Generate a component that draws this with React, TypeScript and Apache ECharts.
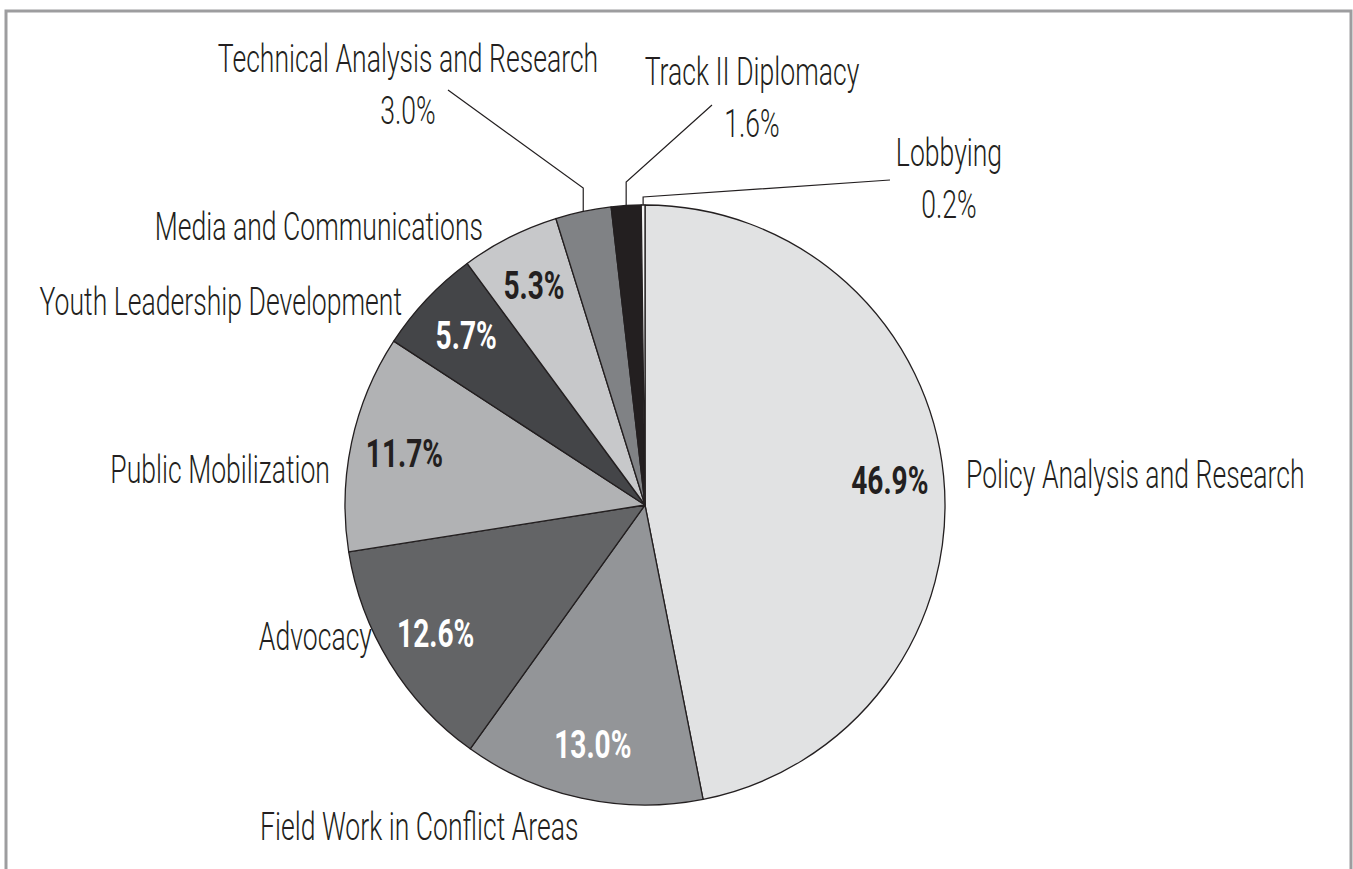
import React, { useEffect, useRef } from "react";
import * as echarts from "echarts";

// ---- data ----
const categories = [
  "Policy Analysis and Research",
  "Field Work in Conflict Areas",
  "Advocacy",
  "Public Mobilization",
  "Youth Leadership Development",
  "Media and Communications",
  "Technical Analysis and Research",
  "Track II Diplomacy",
  "Lobbying",
];
const shares = [46.9, 13.0, 12.6, 11.7, 5.7, 5.3, 3.0, 1.6, 0.2];

// ---- styles ----
const sliceColors = ["#e1e2e3", "#939598", "#636466", "#b1b2b4", "#444548", "#c7c8ca", "#808285", "#231f20", "#f4f4f4"];
const insideLabelColors = ["#231f20", "#ffffff", "#ffffff", "#231f20", "#ffffff", "#231f20", "", "", ""];
const INK = "#231f20";
const FONT = "Roboto, 'Liberation Sans', sans-serif";
const OUT_SIZE = 38;
const OUT_SCALE = 0.7;
const IN_SIZE = 38;
const IN_SCALE = 0.74;
const IN_RADIUS = 246;

// outer label anchors (annotation layout)
const outerLabelLayout: any[] = [
  { x: 966, y: 475, align: "left" },
  { x: 260, y: 827, align: "left" },
  { x: 372, y: 637, align: "right" },
  { x: 330, y: 470, align: "right" },
  { x: 402, y: 302, align: "right" },
  { x: 483, y: 227, align: "right" },
  { x: 408, y: 85, align: "center", elbowY: 188, end: [448, 90] },
  { x: 752, y: 98, align: "center", elbowY: 182, end: [712, 105] },
  { x: 949, y: 179, align: "center", elbowY: 197, end: [890, 180] },
];

const CENTER = [645, 505];
const RADIUS = 300;

export default function App() {
  const ref = useRef<HTMLDivElement>(null);
  useEffect(() => {
    if (!ref.current) return;
    const chart = echarts.init(ref.current, undefined, { renderer: "svg" });
    const total = shares.reduce((a, b) => a + b, 0);
    const midAngle = (i: number) => {
      let cum = 0;
      for (let k = 0; k < i; k++) cum += shares[k];
      return ((cum + shares[i] / 2) / total) * Math.PI * 2;
    };
    const polar = (i: number, r: number) => {
      const a = midAngle(i);
      return [CENTER[0] + r * Math.sin(a), CENTER[1] - r * Math.cos(a)];
    };
    const fmt = (v: number) => `${v.toFixed(1)}%`;

    const graphics: any[] = [
      {
        type: "rect",
        shape: { x: 6, y: 11, width: 1345, height: 1000 },
        style: { fill: "none", stroke: "#9d9d9f", lineWidth: 3 },
        silent: true,
        z: 0,
      },
    ];

    categories.forEach((name, i) => {
      const L = outerLabelLayout[i];
      const text = L.end ? `${name}\n${fmt(shares[i])}` : name;
      graphics.push({
        type: "text",
        x: L.x,
        y: L.y,
        scaleX: OUT_SCALE,
        silent: true,
        z: 10,
        style: {
          text,
          x: 0,
          y: 0,
          align: L.align,
          verticalAlign: "middle",
          fontFamily: FONT,
          fontSize: OUT_SIZE,
          fontWeight: 300,
          lineHeight: 52,
          fill: INK,
        },
      });
      if (L.end) {
        const p0 = polar(i, RADIUS);
        graphics.push({
          type: "polyline",
          silent: true,
          z: 10,
          shape: { points: [p0, [p0[0], L.elbowY], L.end] },
          style: { stroke: INK, lineWidth: 1.2, fill: "none" },
        });
      }
      if (insideLabelColors[i]) {
        const p = polar(i, IN_RADIUS);
        graphics.push({
          type: "text",
          x: p[0],
          y: p[1],
          scaleX: IN_SCALE,
          silent: true,
          z: 10,
          style: {
            text: fmt(shares[i]),
            x: 0,
            y: 0,
            align: "center",
            verticalAlign: "middle",
            fontFamily: FONT,
            fontSize: IN_SIZE,
            fontWeight: "bold",
            fill: insideLabelColors[i],
          },
        });
      }
    });

    chart.setOption({
      animation: false,
      backgroundColor: "#ffffff",
      graphic: graphics,
      series: [
        {
          type: "pie",
          center: CENTER,
          radius: RADIUS,
          startAngle: 90,
          clockwise: true,
          avoidLabelOverlap: false,
          silent: true,
          itemStyle: { borderColor: INK, borderWidth: 1.3 },
          label: { show: false },
          labelLine: { show: false },
          data: categories.map((name, i) => ({
            name,
            value: shares[i],
            itemStyle: { color: sliceColors[i] },
          })),
        },
      ],
    });
    return () => chart.dispose();
  }, []);
  return <div ref={ref} style={{ position: "fixed", left: 0, top: 0, width: 1353, height: 869 }} />;
}
